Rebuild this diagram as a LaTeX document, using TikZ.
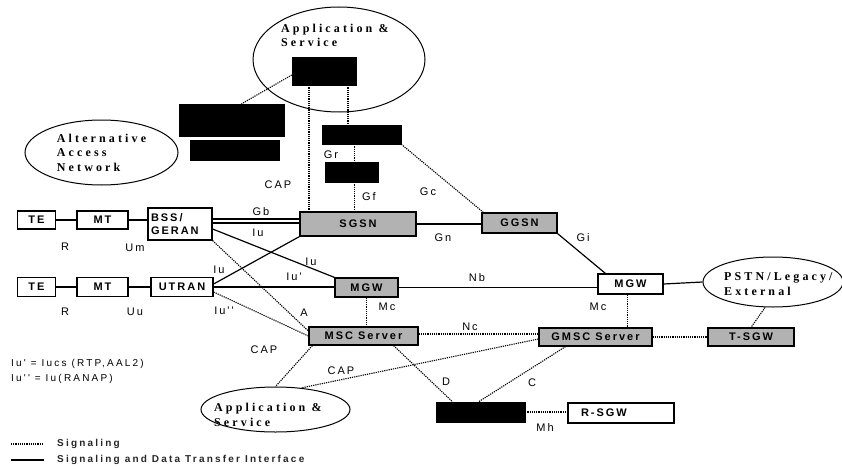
\documentclass[tikz,border=0pt]{standalone}
\usepackage{fontspec}
\usetikzlibrary{shapes.geometric}
\newfontfamily\labfont[LetterSpace=18]{Liberation Sans}
\newfontfamily\keyfont[LetterSpace=22]{Liberation Sans}
\newfontfamily\serfont[LetterSpace=26]{Liberation Serif}

\begin{document}
\begin{tikzpicture}[x=1pt,y=-1pt,
	sz/.style 2 args={minimum width=#1,minimum height=#2},
	box/.style={draw,line width=1.2pt,inner sep=0pt,font=\labfont\bfseries\fontsize{11}{13}\selectfont},
	gbox/.style={box,fill=gray!60},
	blk/.style={draw,fill=black,inner sep=0pt},
	oval/.style={draw,ellipse,line width=1pt,inner sep=0pt},
	otext/.style={align=left,inner sep=0pt,font=\serfont\bfseries\fontsize{12}{14.5}\selectfont},
	link/.style={line width=1.2pt},
	sig/.style={line width=1.1pt,dash pattern=on 1.2pt off 1pt},
	lab/.style={font=\labfont\fontsize{11}{13}\selectfont}]
	\useasboundingbox (0,0) rectangle (842,468);
	% ovals
	\node[oval,sz={172}{105}] (app1) at (339,59.5) {};
	\node[otext,anchor=west] (app1txt) at (281,35.5) {Application \&\\Service};
	\node[oval,otext,sz={153}{65}] (aan) at (101.5,152.5) {Alternative\\Access\\Network};
	\node[oval,sz={140}{50}] (pstn) at (773,282) {};
	\node[otext,anchor=west] (pstntxt) at (724,284) {PSTN/Legacy/\\External};
	\node[oval,sz={149}{45}] (app2) at (275.5,409.5) {};
	\node[otext,anchor=west] (app2txt) at (214,415) {Application \&\\Service};
	% black boxes
	\node[blk,sz={64}{28}] (bk1) at (324,71) {};
	\node[blk,sz={105}{32}] (bk2) at (231.5,120) {};
	\node[blk,sz={89}{20}] (bk3) at (234.5,150) {};
	\node[blk,sz={79}{19}] (bk4) at (361.5,134.5) {};
	\node[blk,sz={53}{20}] (bk4b) at (351.5,172) {};
	\node[blk,sz={89}{20}] (bk5) at (480.5,412) {};
	% network elements
	\node[box,sz={38}{18}] (te1) at (36.5,220) {TE};
	\node[box,sz={51}{18}] (mt1) at (102.5,220) {MT};
	\node[box,sz={64}{32},text width=58,align=left] (bss) at (180,224) {BSS/\\GERAN};
	\node[gbox,sz={116}{24}] (sgsn) at (358,224) {SGSN};
	\node[gbox,sz={75}{20}] (ggsn) at (519.5,223) {GGSN};
	\node[box,sz={38}{19}] (te2) at (36.5,287) {TE};
	\node[box,sz={51}{19}] (mt2) at (102.5,287) {MT};
	\node[box,sz={62}{19}] (utran) at (182,287) {UTRAN};
	\node[gbox,sz={63}{19}] (mgwa) at (366.5,287.5) {MGW};
	\node[box,sz={65}{20}] (mgwb) at (630.5,284) {MGW};
	\node[gbox,sz={109}{18}] (msc) at (363.5,336) {MSC Server};
	\node[gbox,sz={113}{18}] (gmsc) at (595.5,337) {GMSC Server};
	\node[gbox,sz={86}{18}] (tsgw) at (751,337) {T-SGW};
	\node[box,sz={106}{20},text width=80,align=left] (rsgw) at (621,413) {R-SGW};
	% data transfer
	\draw[link] (te1) -- (mt1);
	\draw[link] (mt1.east) -- (mt1.east -| bss.west);
	\draw[link] ([yshift=5]bss.east) -- ([yshift=5]bss.east -| sgsn.west);
	\draw[link] ([yshift=1]bss.east) -- ([yshift=1]bss.east -| sgsn.west);
	\draw[link] ([yshift=-5]bss.east) -- (mgwa.north west);
	\draw[link] (te2) -- (mt2);
	\draw[link] (mt2) -- (utran);
	\draw[link] ([yshift=3]utran.east) -- (sgsn.south west);
	\draw[link] (utran.east) -- (utran.east -| mgwa.west);
	\draw[link] (sgsn.east) -- (sgsn.east -| ggsn.west);
	\draw[link] (ggsn.south east) -- ([xshift=8]mgwb.north west);
	\draw[link] (mgwa.east) -- (mgwa.east -| mgwb.west);
	\draw[link] (mgwb.east) -- (pstn.west);
	% signaling
	\draw[sig] ([yshift=-4]bk1.west) -- ([xshift=10]bk2.north);
	\draw[sig] ([xshift=-15]bk1.south) -- ([xshift=-15]bk1.south |- sgsn.north);
	\draw[sig] ([xshift=24]bk1.south) -- ([xshift=24]bk1.south |- bk4.north);
	\draw[sig] ([xshift=3]bk4b.north |- bk4.south) -- ([xshift=3]bk4b.north);
	\draw[sig] ([xshift=3]bk4b.south) -- ([xshift=3]bk4b.south |- sgsn.north);
	\draw[sig] (bk4.south east) -- ([xshift=2]ggsn.north west);
	\draw[sig] (bss.south east) -- ([yshift=5]msc.west);
	\draw[sig] ([yshift=-5]utran.east) -- (msc.west);
	\draw[sig] (mgwa.south) -- (mgwa.south |- msc.north);
	\draw[sig] ([xshift=-3]mgwb.south) -- ([xshift=-3]mgwb.south |- gmsc.north);
	\draw[sig] ([yshift=2]msc.east) -- ([yshift=2]msc.east -| gmsc.west);
	\draw[sig] (gmsc.east) -- (tsgw.west);
	\draw[sig] ([xshift=-8]pstn.south) -- (tsgw.north);
	\draw[sig] ([xshift=4]msc.south west) -- (app2.north);
	\draw[sig] ([yshift=-2]gmsc.west) -- (app2.40);
	\draw[sig] ([xshift=-25]msc.south east) -- ([xshift=-28]bk5.north);
	\draw[sig] ([xshift=-30]gmsc.south) -- ([xshift=-2]bk5.north);
	\draw[sig] (bk5.east) -- (bk5.east -| rsgw.west);
	% interface names
	\node[lab] (lgb) at (261,212) {Gb};
	\node[lab] (liu1) at (258,233) {Iu};
	\node[lab] (liu2) at (311,262) {Iu};
	\node[lab] (liu3) at (219,270) {Iu};
	\node[lab] (liu4) at (294,277) {Iu'};
	\node[lab] (liu5) at (224,311) {Iu''};
	\node[lab] (la) at (304,313) {A};
	\node[lab] (lr1) at (65,247) {R};
	\node[lab] (lum) at (135,248) {Um};
	\node[lab] (lr2) at (65,312) {R};
	\node[lab] (luu) at (135,312) {Uu};
	\node[lab] (lcap1) at (278,185) {CAP};
	\node[lab] (lgr) at (331,155) {Gr};
	\node[lab] (lgf) at (369,197) {Gf};
	\node[lab] (lgc) at (428,192) {Gc};
	\node[lab] (lgn) at (443,238) {Gn};
	\node[lab] (lgi) at (583,238) {Gi};
	\node[lab] (lnb) at (477,278) {Nb};
	\node[lab] (lmc1) at (387,307) {Mc};
	\node[lab] (lmc2) at (598,307) {Mc};
	\node[lab] (lnc) at (470,327) {Nc};
	\node[lab] (lcap2) at (264,350) {CAP};
	\node[lab] (lcap3) at (341,371) {CAP};
	\node[lab] (ld) at (446,382) {D};
	\node[lab] (lc) at (532,383) {C};
	\node[lab] (lmh) at (545,428) {Mh};
	% notes and legend
	\node[anchor=west,inner sep=0pt,font=\keyfont\fontsize{10}{12}\selectfont] (note1) at (11,364) {Iu' = Iucs (RTP,AAL2)};
	\node[anchor=west,inner sep=0pt,font=\keyfont\fontsize{10}{12}\selectfont] (note2) at (11,379) {Iu'' = Iu(RANAP)};
	\coordinate (k1) at (11,444);
	\coordinate (k2) at (11,460);
	\node[anchor=west,inner sep=0pt,font=\keyfont\bfseries\fontsize{10}{12}\selectfont,text=black!85] (key1) at (57,444) {Signaling};
	\node[anchor=west,inner sep=0pt,font=\keyfont\bfseries\fontsize{10}{12}\selectfont,text=black!85] (key2) at (57,460) {Signaling and Data Transfer Interface};
	\draw[sig] (k1) -- ([xshift=-13]k1 -| key1.west);
	\draw[link] (k2) -- ([xshift=-13]k2 -| key2.west);
\end{tikzpicture}
\end{document}
